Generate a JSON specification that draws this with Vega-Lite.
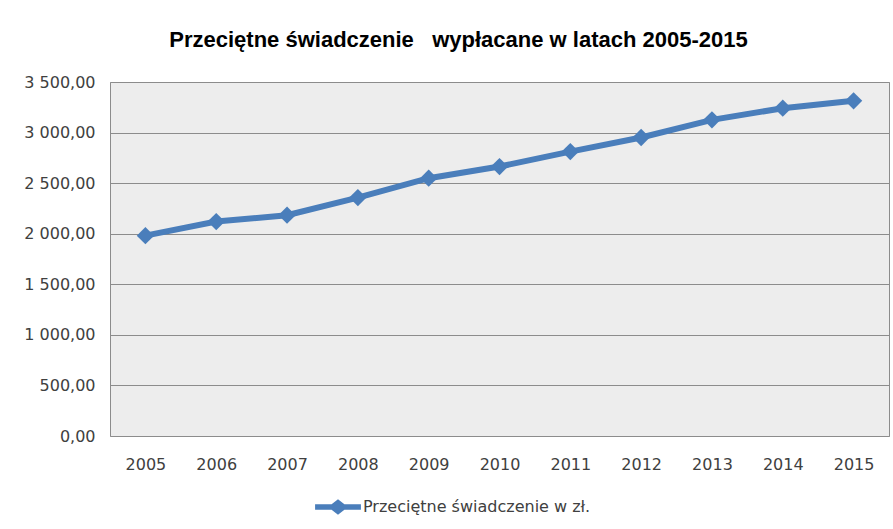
{
  "$schema": "https://vega.github.io/schema/vega-lite/v6.json",
  "width": 779,
  "height": 354,
  "autosize": {"type": "none"},
  "padding": {"left": 110, "top": 82, "right": 4, "bottom": 93},
  "background": "white",
  "config": {
    "locale": {"number": {"decimal": ",", "thousands": " ", "grouping": [3], "currency": ["", ""]}},
    "view": {"fill": "#ededed", "stroke": "#8c8c8c", "strokeWidth": 1}
  },
  "title": {
    "text": "Przeciętne świadczenie \u00a0 wypłacane w latach 2005-2015",
    "font": "Liberation Sans",
    "fontSize": 22,
    "fontWeight": "bold",
    "color": "#000000",
    "anchor": "middle",
    "dx": -41,
    "offset": 22
  },
  "data": {
    "values": [
      {"rok": "2005", "wartosc": 1981, "seria": "Przeciętne świadczenie w zł."},
      {"rok": "2006", "wartosc": 2120, "seria": "Przeciętne świadczenie w zł."},
      {"rok": "2007", "wartosc": 2183, "seria": "Przeciętne świadczenie w zł."},
      {"rok": "2008", "wartosc": 2357, "seria": "Przeciętne świadczenie w zł."},
      {"rok": "2009", "wartosc": 2549, "seria": "Przeciętne świadczenie w zł."},
      {"rok": "2010", "wartosc": 2664, "seria": "Przeciętne świadczenie w zł."},
      {"rok": "2011", "wartosc": 2812, "seria": "Przeciętne świadczenie w zł."},
      {"rok": "2012", "wartosc": 2951, "seria": "Przeciętne świadczenie w zł."},
      {"rok": "2013", "wartosc": 3126, "seria": "Przeciętne świadczenie w zł."},
      {"rok": "2014", "wartosc": 3241, "seria": "Przeciętne świadczenie w zł."},
      {"rok": "2015", "wartosc": 3314, "seria": "Przeciętne świadczenie w zł."}
    ]
  },
  "mark": {
    "type": "line",
    "strokeWidth": 6,
    "point": {"shape": "diamond", "size": 300, "filled": true, "color": "#4a7ebb"}
  },
  "encoding": {
    "x": {
      "field": "rok",
      "type": "ordinal",
      "title": null,
      "scale": {"paddingInner": 0, "paddingOuter": 0.5},
      "axis": {
        "labelAngle": 0,
        "labelFont": "DejaVu Sans",
        "labelFontSize": 16,
        "labelColor": "#404040",
        "labelPadding": 20,
        "ticks": false,
        "domain": false,
        "grid": false
      }
    },
    "y": {
      "field": "wartosc",
      "type": "quantitative",
      "title": null,
      "scale": {"domain": [0, 3500], "nice": false},
      "axis": {
        "values": [0, 500, 1000, 1500, 2000, 2500, 3000, 3500],
        "format": ",.2f",
        "labelFont": "DejaVu Sans",
        "labelFontSize": 16,
        "labelColor": "#404040",
        "labelPadding": 15,
        "ticks": false,
        "domain": false,
        "grid": true,
        "gridColor": "#8c8c8c",
        "gridWidth": 1
      }
    },
    "color": {
      "field": "seria",
      "type": "nominal",
      "scale": {"range": ["#4a7ebb"]},
      "legend": {
        "title": null,
        "orient": "none",
        "legendX": 205,
        "legendY": 402,
        "symbolType": "M-1,-0.12 L-0.28,-0.12 L0,-0.34 L0.28,-0.12 L1,-0.12 L1,0.12 L0.28,0.12 L0,0.34 L-0.28,0.12 L-1,0.12 Z",
        "symbolSize": 2100,
        "symbolFillColor": "#4a7ebb",
        "symbolStrokeWidth": 0,
        "labelFont": "DejaVu Sans",
        "labelFontSize": 16,
        "labelColor": "#404040",
        "labelOffset": 2,
        "labelLimit": 400,
        "encode": {"symbols": {"update": {"fill": {"value": "#4a7ebb"}, "stroke": {"value": "transparent"}}}}
      }
    }
  }
}
